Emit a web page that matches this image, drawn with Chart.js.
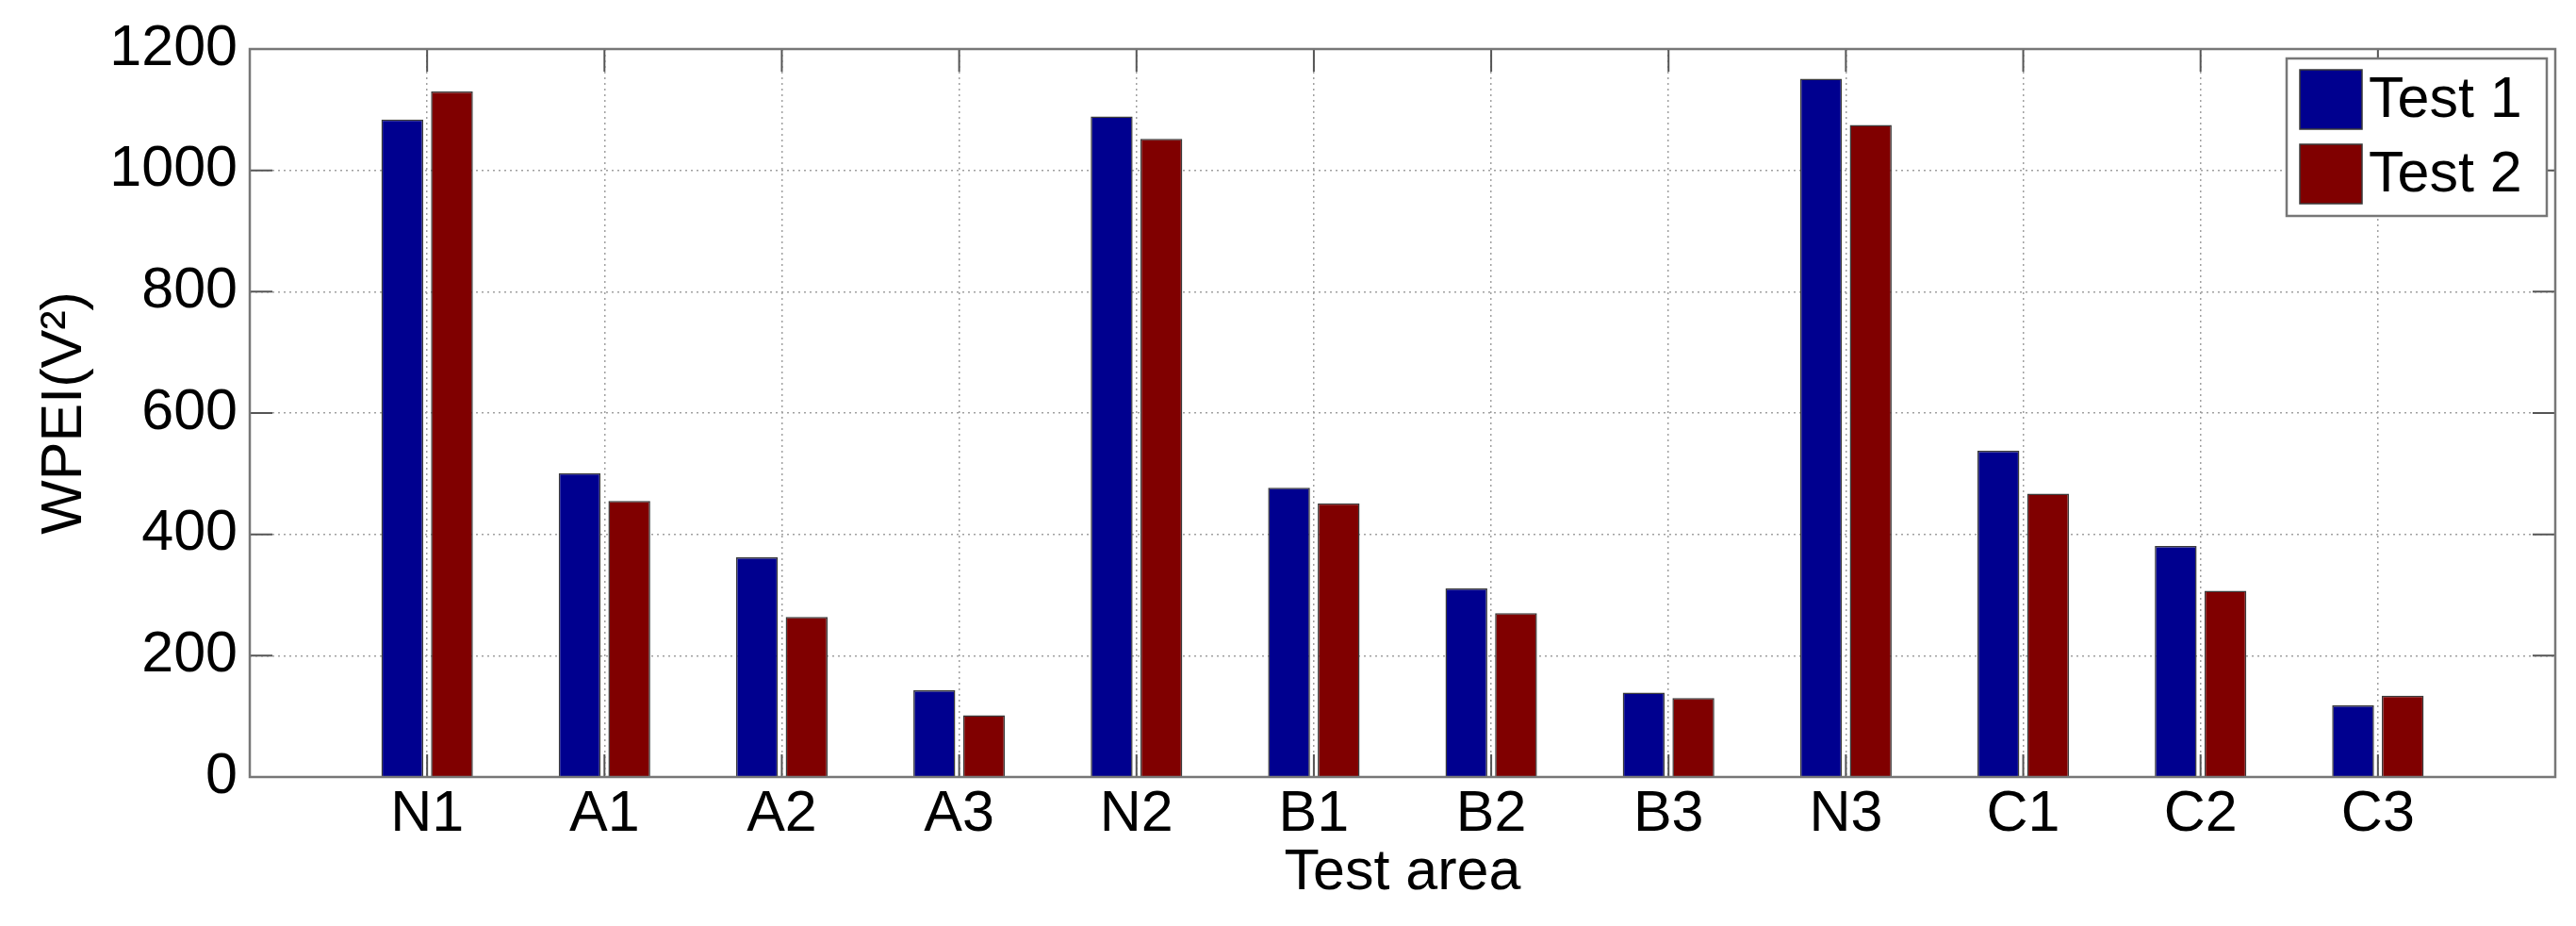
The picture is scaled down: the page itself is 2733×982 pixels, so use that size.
<!DOCTYPE html>
<html><head><meta charset="utf-8">
<script src="https://cdn.jsdelivr.net/npm/chart.js@4/dist/chart.umd.min.js"></script>
<style>html,body{margin:0;padding:0;background:#fff;} canvas{display:block}</style>
</head><body>
<canvas id="c" width="2733" height="982"></canvas>
<script>
const categories = ['N1','A1','A2','A3','N2','B1','B2','B3','N3','C1','C2','C3'];
const test1 = [1084, 501, 362, 143, 1089, 477, 311, 139, 1151, 538, 381, 118];
const test2 = [1130, 455, 264, 102, 1052, 451, 270, 130, 1075, 467, 307, 134];
const yTicks = [0, 200, 400, 600, 800, 1000, 1200];
const seriesNames = ['Test 1', 'Test 2'];
const seriesColors = ['#00008f', '#800000'];
const xTitle = 'Test area';
const yTitle = 'WPEI(V\u00B2)';

const FONT = 'Liberation Sans, Arial, Helvetica, sans-serif';
const FS = 61;

const frame = {
  id: 'frame',
  afterDatasetsDraw(chart) {
    const {ctx, chartArea: a, scales: {x, y}} = chart;
    ctx.save();
    const tl = 24;
    ctx.strokeStyle = '#555';
    ctx.lineWidth = 2;
    ctx.beginPath();
    yTicks.forEach(v => {
      const py = y.getPixelForValue(v);
      ctx.moveTo(a.left, py); ctx.lineTo(a.left + tl, py);
      ctx.moveTo(a.right, py); ctx.lineTo(a.right - tl, py);
    });
    categories.forEach((c, i) => {
      const px = x.getPixelForValue(i + 1);
      ctx.moveTo(px, a.bottom); ctx.lineTo(px, a.bottom - tl);
      ctx.moveTo(px, a.top); ctx.lineTo(px, a.top + tl);
    });
    ctx.stroke();
    ctx.strokeStyle = '#777';
    ctx.lineWidth = 2.5;
    ctx.strokeRect(a.left, a.top, a.right - a.left, a.bottom - a.top);
    ctx.restore();
  },
  afterDraw(chart) {
    const {ctx} = chart;
    ctx.save();
    const bx = 2426, by = 62, bw = 276, bh = 167;
    ctx.fillStyle = '#fff';
    ctx.fillRect(bx, by, bw, bh);
    ctx.strokeStyle = '#777';
    ctx.lineWidth = 2.5;
    ctx.strokeRect(bx, by, bw, bh);
    chart.data.datasets.forEach((ds, i) => {
      const sy = 74 + i * 79;
      ctx.fillStyle = ds.backgroundColor;
      ctx.fillRect(2440, sy, 66, 63);
      ctx.strokeStyle = '#3a3a3a';
      ctx.lineWidth = 1.5;
      ctx.strokeRect(2440, sy, 66, 63);
      ctx.fillStyle = '#000';
      ctx.font = FS + 'px ' + FONT;
      ctx.textAlign = 'left';
      ctx.textBaseline = 'middle';
      ctx.fillText(ds.label, 2513, sy + 33);
    });
    ctx.restore();
  }
};

const mk = (vals) => vals.map((v, i) => ({x: i + 1, y: v}));

new Chart(document.getElementById('c'), {
  type: 'bar',
  data: {
    datasets: [
      {label: seriesNames[0], data: mk(test1), backgroundColor: seriesColors[0], borderColor: '#3a3a3a', borderWidth: 1.5,
       categoryPercentage: 0.56, barPercentage: 0.843},
      {label: seriesNames[1], data: mk(test2), backgroundColor: seriesColors[1], borderColor: '#3a3a3a', borderWidth: 1.5,
       categoryPercentage: 0.56, barPercentage: 0.843}
    ]
  },
  options: {
    responsive: false,
    devicePixelRatio: 1,
    animation: false,
    layout: {padding: {top: 52, right: 22, left: 0, bottom: 0}},
    plugins: {legend: {display: false}, tooltip: {enabled: false}},
    scales: {
      x: {
        type: 'linear', min: 0, max: 13, offset: false,
        afterBuildTicks(s) { s.ticks = categories.map((c, i) => ({value: i + 1})); },
        afterFit(s) { s.height = 158; },
        ticks: {callback: v => categories[v - 1] ?? '', color: '#000', font: {family: FONT, size: FS}, padding: 4, maxRotation: 0, autoSkip: false},
        grid: {offset: false, drawTicks: false, color: '#a0a0a0', lineWidth: 1.5},
        border: {display: false, dash: [2, 4]},
        title: {display: true, text: xTitle, color: '#000', font: {family: FONT, size: FS}, padding: {top: 0, bottom: 19}}
      },
      y: {
        type: 'linear', min: 0, max: 1200,
        afterBuildTicks(s) { s.ticks = yTicks.map(v => ({value: v})); },
        afterFit(s) { s.width = 265; },
        ticks: {callback: v => String(v), color: '#000', font: {family: FONT, size: FS}, padding: 13},
        grid: {drawTicks: false, color: '#a0a0a0', lineWidth: 1.5},
        border: {display: false, dash: [2, 4]},
        title: {display: true, text: yTitle, color: '#000', font: {family: FONT, size: FS}, padding: {top: 33, bottom: 0}}
      }
    }
  },
  plugins: [frame]
});
</script>
</body></html>
